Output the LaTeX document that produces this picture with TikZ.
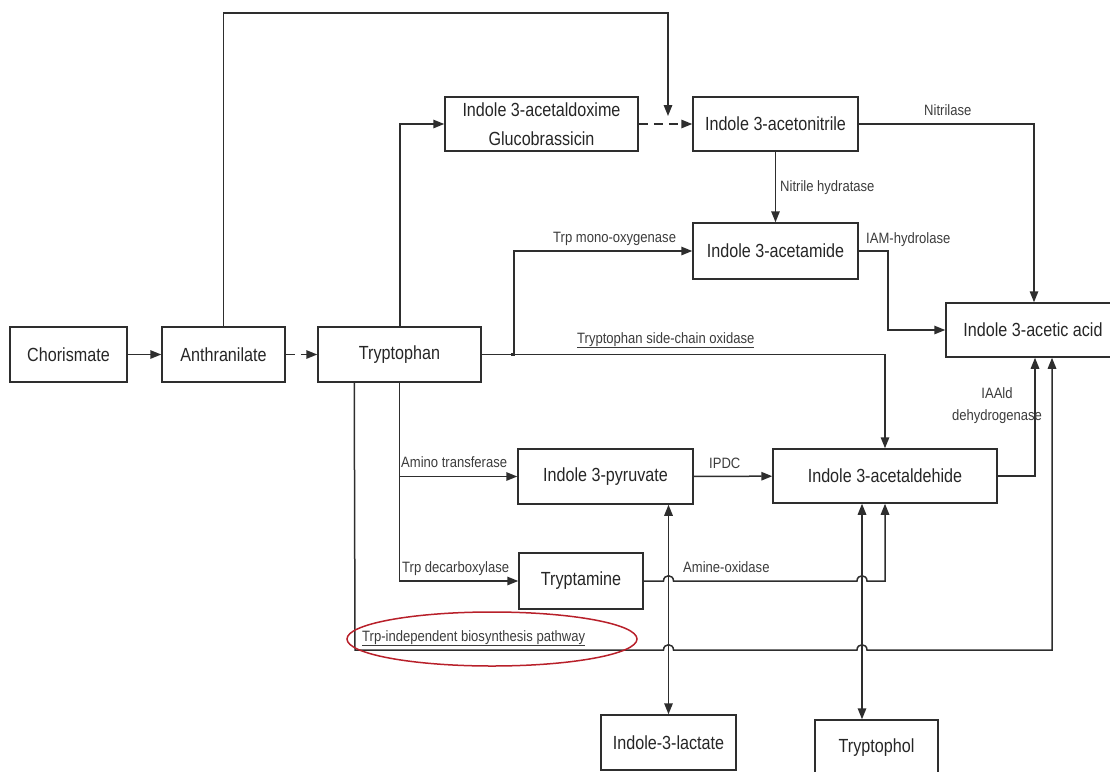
\documentclass[tikz,border=0pt]{standalone}
\usepackage{fontspec}
\setmainfont{Liberation Sans}
\newfontfamily\bxf[FakeStretch=0.85]{Liberation Sans}
\newfontfamily\lbf[FakeStretch=0.87]{Liberation Sans}
\usetikzlibrary{arrows.meta,calc}
\definecolor{ln}{HTML}{2E2E2E}
\definecolor{tx}{HTML}{262626}
\definecolor{lb}{HTML}{3C3C3C}
\definecolor{oval}{HTML}{B8202A}
\begin{document}
\begin{tikzpicture}[x=1pt,y=-1pt,
  box/.style={draw=ln, line width=1.5pt, text=tx, font=\bxf\fontsize{19}{29}\selectfont, minimum height=55pt, inner sep=0pt, align=center},
  lab/.style={text=lb, font=\lbf\fontsize{15}{22}\selectfont, inner sep=0pt},
  conn/.style={draw=ln, line width=1.5pt, -{Triangle[length=11pt,width=8.5pt]}},
  dconn/.style={conn, dash pattern=on 9pt off 6pt},
  bi/.style={draw=ln, line width=1.5pt, {Triangle[length=11pt,width=8.5pt]}-{Triangle[length=11pt,width=8.5pt]}}]
\useasboundingbox (0,0) rectangle (1110,771);
\clip (0,0) rectangle (1110,771);

% boxes
\node[box, minimum width=117pt] (chor) at (68.5,354.5) {Chorismate};
\node[box, minimum width=123pt] (anth) at (223.5,354.5) {Anthranilate};
\node[box, minimum width=163pt] (tryp) at (399.5,354.5) {Tryptophan};
\node[box, minimum width=193pt, minimum height=54pt] (oxime) at (541.5,124) {Indole 3-acetaldoxime\\Glucobrassicin};
\node[box, minimum width=165pt, minimum height=54pt] (nitrile) at (775.5,124) {Indole 3-acetonitrile};
\node[box, minimum width=165pt, minimum height=56pt] (amide) at (775.5,251) {Indole 3-acetamide};
\node[box, minimum width=174pt, minimum height=54pt] (iaa) at (1033,330) {Indole 3-acetic acid};
\node[box, minimum width=175pt] (pyr) at (605.5,476.5) {Indole 3-pyruvate};
\node[box, minimum width=224pt, minimum height=54pt] (ald) at (885,476) {Indole 3-acetaldehide};
\node[box, minimum width=124pt, minimum height=56pt] (tam) at (581,581) {Tryptamine};
\node[box, minimum width=135pt] (lact) at (668.5,742.5) {Indole-3-lactate};
\node[box, minimum width=123pt] (tol) at (876.5,747.5) {Tryptophol};

% helper coordinates
\coordinate (jx) at (668,116);
\coordinate (topR) at (668,13);
\coordinate (jm) at ($(tryp.east)+(32,0)$);
\coordinate (ti) at ($(tryp.south west)+(37,0)$);
\coordinate (tolt) at ($(tol.north)+(-14.5,0)$);

% connectors
\draw[conn] (chor) -- (anth);
\draw[dconn] (anth) -- (tryp);
\draw[conn] (anth.north) |- (topR) -- (jx);
\draw[conn] ($(tryp.north)+(0.5,0)$) |- (oxime.west);
\draw[dconn] (oxime) -- (nitrile);
\draw[conn] (nitrile.east) -| ($(iaa.north)+(1,0)$);
\draw[conn] (nitrile) -- (amide);
\draw[conn] (amide.east) -- ++(29,0) |- (iaa.west);
\draw[conn] (tryp.east) -| (ald.north);
\draw[conn] (jm) |- (amide.west);
\fill[ln] ($(jm)+(-3,-1.5)$) rectangle ($(jm)+(1,1.5)$);
\draw[conn] (tryp.south) |- (tam.west);
\draw[conn] (tryp.south |- pyr.west) -- (pyr.west);
\draw[conn] (pyr) -- (ald);
\draw[conn] (tam.east) -- (663.5,581) .. controls (663.5,574) and (673.5,574) .. (673.5,581)
  -- (857,581) .. controls (857,574) and (867,574) .. (867,581) -| (ald.south);
\draw[bi] (lact.north) -- (lact.north |- pyr.south);
\draw[bi] (tolt) -- (tolt |- ald.south);
\draw[conn] (ald.east) -| ($(iaa.south)+(2,0)$);
\draw[conn] (ti) -- (355,650) -- (663.5,650) .. controls (663.5,643) and (673.5,643) .. (673.5,650)
  -- (857,650) .. controls (857,643) and (867,643) .. (867,650) -- (1052,650) -- (iaa.south -| 1052,0);

% labels
\node[lab, anchor=base west] (lNitrilase) at (924,115) {Nitrilase};
\node[lab, anchor=base west] (lNH) at (780,191) {Nitrile hydratase};
\node[lab, anchor=base west] (lIAM) at (866,243) {IAM-hydrolase};
\node[lab, anchor=base west] (lMono) at (553,242) {Trp mono-oxygenase};
\node[lab, anchor=base west] (lSide) at (577,343) {\underline{Tryptophan side-chain oxidase}};
\node[lab, anchor=base, align=center] (lIAAld) at (997,420) {IAAld\\dehydrogenase};
\node[lab, anchor=base west] (lAmino) at (401,467) {Amino transferase};
\node[lab, anchor=base west] (lIPDC) at (709,468) {IPDC};
\node[lab, anchor=base west] (lDec) at (402,572) {Trp decarboxylase};
\node[lab, anchor=base west] (lAmine) at (683,572) {Amine-oxidase};
\node[lab, anchor=base west] (lIndep) at (362,641) {\underline{Trp-independent biosynthesis pathway}};

% red ellipse
\draw[oval, line width=1.5pt] (492,639) ellipse [x radius=145pt, y radius=27pt];
\end{tikzpicture}
\end{document}
